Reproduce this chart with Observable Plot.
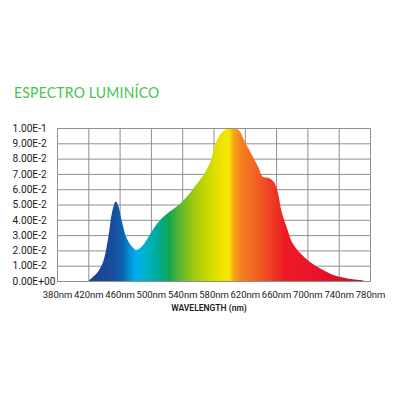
<!DOCTYPE html>
<html><head><meta charset="utf-8">
<script src="https://cdn.jsdelivr.net/npm/d3@7"></script>
<script src="https://cdn.jsdelivr.net/npm/@observablehq/plot@0.6"></script>
<style>
html,body{margin:0;padding:0;background:#fff;width:400px;height:400px;overflow:hidden}
#wrap{position:relative;width:400px;height:400px}
#title{position:absolute;left:14px;top:85px;font-family:Lato,sans-serif;font-size:14px;color:#45c44a;letter-spacing:0.2px;line-height:1;white-space:nowrap;transform:scaleY(1.1);transform-origin:left top}
#chart{position:absolute;left:0;top:0}
</style></head><body>
<div id="wrap"><div id="chart"></div><div id="title">ESPECTRO LUMINÍCO</div></div>
<script>
const wavelengths = [421, 431, 439, 446, 450, 455, 458, 463, 469, 476, 481, 488, 497, 505, 516, 527, 537, 546, 556, 567, 576, 582, 588, 597, 603, 612, 620, 629, 637, 643, 650, 657, 662, 667, 674, 680, 691, 703, 716, 733, 750, 772];
const intensities = [0.0005, 0.0052, 0.0126, 0.030, 0.044, 0.052, 0.0497, 0.0388, 0.0281, 0.0224, 0.0203, 0.0224, 0.029, 0.0355, 0.042, 0.0464, 0.0503, 0.0551, 0.0616, 0.0693, 0.078, 0.0889, 0.0954, 0.0995, 0.1, 0.0987, 0.091, 0.0824, 0.0747, 0.0682, 0.0675, 0.0649, 0.0584, 0.0453, 0.0344, 0.0257, 0.0181, 0.0126, 0.0083, 0.0039, 0.0018, 0.0003];
const xTicks = [380, 420, 460, 500, 540, 580, 620, 660, 700, 740, 780];
const yTicks = [0, 0.01, 0.02, 0.03, 0.04, 0.05, 0.06, 0.07, 0.08, 0.09, 0.1];
const yTickLabels = ["0.00E+00", "1.00E-2", "2.00E-2", "3.00E-2", "4.00E-2", "5.00E-2", "6.00E-2", "7.00E-2", "8.00E-2", "9.00E-2", "1.00E-1"];
const stopWavelengths = [380, 422, 452, 464, 473, 481, 495, 512, 524, 537, 554, 572, 591, 600, 606, 616, 633, 650, 671, 716, 767, 780];
const stopColors = ["#1b3f8f", "#1b3f8f", "#1a4d9e", "#0b63b0", "#0092d2", "#00aeef", "#00b2c4", "#00a88c", "#14a84a", "#5cb531", "#9cc813", "#cad800", "#f0e400", "#f5e600", "#f7a31c", "#f57f20", "#f26522", "#ef4523", "#ec1c24", "#e8112d", "#c0141f", "#b8131e"];

const data = wavelengths.map((w, i) => ({w, v: intensities[i]}));
const gridColor = "#8f8f8f";

const chart = Plot.plot({
  width: 400, height: 400,
  marginLeft: 57, marginRight: 30, marginTop: 128, marginBottom: 119,
  style: {fontFamily: "Roboto, sans-serif", background: "#fff", overflow: "visible"},
  x: {domain: [380, 780], axis: null},
  y: {domain: [0, 0.1], axis: null},
  marks: [
    Plot.gridX(xTicks, {stroke: gridColor, strokeOpacity: 1}),
    Plot.gridY(yTicks, {stroke: gridColor, strokeOpacity: 1}),
    Plot.areaY(data, {x: "w", y: "v", fill: "url(#spectrum)", curve: "catmull-rom"}),
    Plot.frame({stroke: gridColor}),
    Plot.text(xTicks, {x: d => d, text: d => d + "nm", frameAnchor: "bottom", dy: 13, lineAnchor: "middle", fontSize: 9.5, fill: "#1a1a1a", style: {letterSpacing: "-0.3px"}}),
    Plot.text(yTicks, {y: d => d, text: (d, i) => yTickLabels[i], frameAnchor: "left", textAnchor: "start", dx: -45, fontSize: 10.2, fill: "#1a1a1a", style: {letterSpacing: "0.35px"}}),
    Plot.text(["WAVELENGTH (nm)"], {text: d => d, frameAnchor: "bottom", dx: -5, dy: 27, lineAnchor: "middle", fontSize: 8.5, fontWeight: 600, fill: "#1a1a1a"})
  ]
});

const xs = chart.scale("x");
const svg = d3.select(chart);
const grad = svg.insert("defs", ":first-child").append("linearGradient")
  .attr("id", "spectrum").attr("gradientUnits", "userSpaceOnUse")
  .attr("x1", xs.apply(380)).attr("x2", xs.apply(780)).attr("y1", 0).attr("y2", 0);
grad.selectAll("stop").data(stopWavelengths).join("stop")
  .attr("offset", d => (d - 380) / 400)
  .attr("stop-color", (d, i) => stopColors[i]);

document.getElementById("chart").appendChild(chart);
</script>
</body></html>
